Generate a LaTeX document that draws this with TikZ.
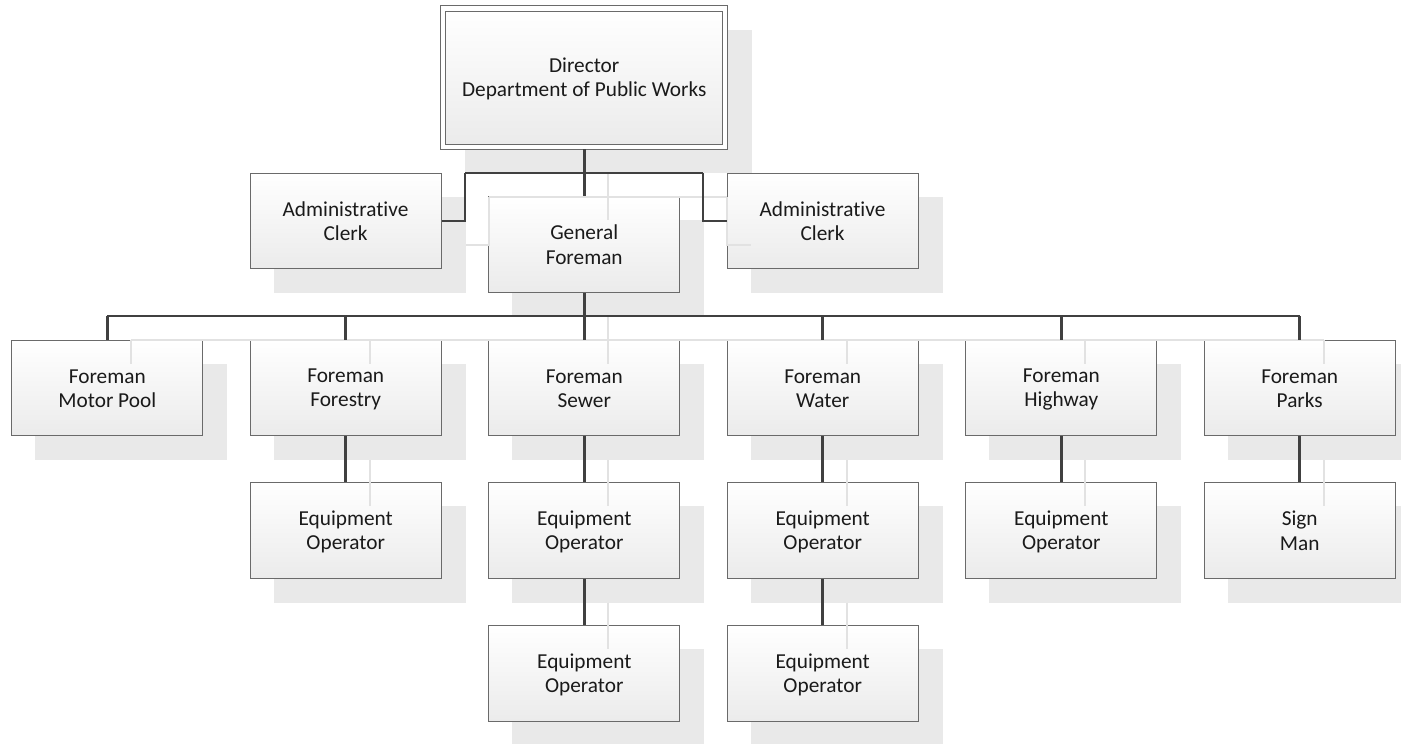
\documentclass[tikz,border=0pt]{standalone}
\usepackage{fontspec}
\setmainfont{Carlito}[Ligatures=NoCommon]
\definecolor{boxline}{HTML}{6A6A6A}
\definecolor{boxbot}{HTML}{EBEBEB}
\definecolor{shfill}{HTML}{E9E9E9}
\definecolor{shc}{HTML}{E2E2E2}
\definecolor{connc}{HTML}{404040}
\definecolor{txt}{HTML}{1A1A1A}
\pgfdeclarelayer{bg}
\pgfsetlayers{bg,main}
\newcommand\orgconn[1]{%
  \draw[shline,transform canvas={shift={(24pt,-24pt)}}] #1;%
  \draw[cline] #1;}
\newcommand\tl[1]{#1\rule[-2.3pt]{0pt}{19.3pt}}
\begin{document}
\begin{tikzpicture}[x=1pt,y=-1pt,
  box/.style={draw=boxline, line width=1pt, top color=white, bottom color=boxbot,
    minimum width=191pt, minimum height=95.5pt, align=center, inner sep=0pt,
    font=\fontsize{21.3}{24.3}\selectfont, text=txt},
  cline/.style={draw=connc, line width=2.6pt},
  shline/.style={draw=shc, line width=2.2pt},
  boxshadow/.style={fill=shfill, draw=none}
]
\useasboundingbox (0,0) rectangle (1401,744);

% nodes
\node[box, minimum width=277pt, minimum height=133pt] (dir) at (584.2,77.5) {\tl{Director}\\\tl{Department of Public Works}};
\node[box] (ac1) at (345.5,221) {\tl{Administrative}\\\tl{Clerk}};
\node[box] (gf)  at (584.2,244.5) {\tl{General}\\\tl{Foreman}};
\node[box] (ac2) at (822.5,221) {\tl{Administrative}\\\tl{Clerk}};

\node[box] (fm)  at (107.3,388) {\tl{Foreman}\\\tl{Motor Pool}};
\node[box] (ffo) at (345.7,388) {\tl{Foreman}\\\tl{Forestry}};
\node[box] (fs)  at (584.3,388) {\tl{Foreman}\\\tl{Sewer}};
\node[box] (fw)  at (822.7,388) {\tl{Foreman}\\\tl{Water}};
\node[box] (fh)  at (1061.3,388) {\tl{Foreman}\\\tl{Highway}};
\node[box] (fp)  at (1299.7,388) {\tl{Foreman}\\\tl{Parks}};

\node[box] (e1) at (345.7,530.5) {\tl{Equipment}\\\tl{Operator}};
\node[box] (e2) at (584.3,530.5) {\tl{Equipment}\\\tl{Operator}};
\node[box] (e4) at (822.7,530.5) {\tl{Equipment}\\\tl{Operator}};
\node[box] (e6) at (1061.3,530.5) {\tl{Equipment}\\\tl{Operator}};
\node[box] (sm) at (1299.7,530.5) {\tl{Sign}\\\tl{Man}};

\node[box] (e3) at (584.3,673.5) {\tl{Equipment}\\\tl{Operator}};
\node[box] (e5) at (822.7,673.5) {\tl{Equipment}\\\tl{Operator}};

% director outer border and shadows
\coordinate (dnw) at ([shift={(-4.7pt,4.7pt)}]dir.north west);
\coordinate (dse) at ([shift={(4.7pt,-4.7pt)}]dir.south east);
\begin{pgfonlayer}{bg}
  \fill[boxshadow] ([shift={(24pt,-24pt)}]dnw) rectangle ([shift={(24pt,-24pt)}]dse);
  \foreach \n in {ac1,gf,ac2,fm,ffo,fs,fw,fh,fp,e1,e2,e4,e6,sm,e3,e5}
    \fill[boxshadow] ([shift={(24pt,-24pt)}]\n.south west) rectangle ([shift={(24pt,-24pt)}]\n.north east);
  \draw[boxline, fill=white, line width=1pt] (dnw) rectangle (dse);
\end{pgfonlayer}

% connectors
\coordinate (jl) at (465,173);
\coordinate (jr) at (703,173);
\coordinate (bus) at (0,316);

\orgconn{(dir.south |- dse) -- (gf.north)}
\orgconn{(jl) -- (jr)}
\orgconn{(jl) |- (ac1.east)}
\orgconn{(jr) |- (ac2.west)}
\orgconn{(gf.south) -- (gf.south |- bus)}
\orgconn{(fm.north |- bus) -- (fp.north |- bus)}
\foreach \n in {fm,ffo,fs,fw,fh,fp}
  {\orgconn{(\n.north |- bus) -- (\n.north)}}
\orgconn{(ffo.south) -- (e1.north)}
\orgconn{(fs.south) -- (e2.north)}
\orgconn{(e2.south) -- (e3.north)}
\orgconn{(fw.south) -- (e4.north)}
\orgconn{(e4.south) -- (e5.north)}
\orgconn{(fh.south) -- (e6.north)}
\orgconn{(fp.south) -- (sm.north)}
\end{tikzpicture}
\end{document}
